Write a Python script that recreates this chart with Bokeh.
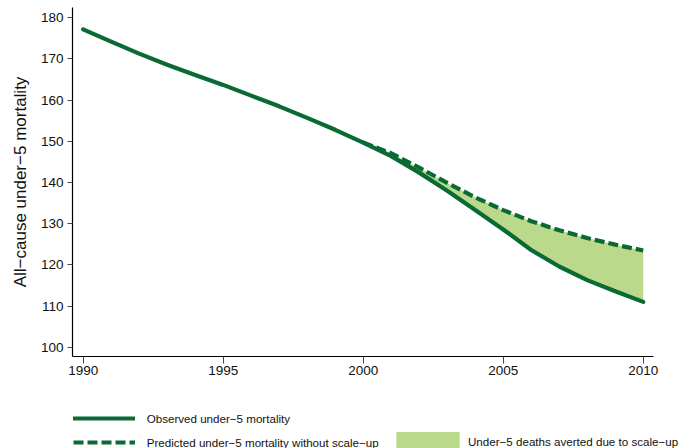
from bokeh.plotting import figure
from bokeh.layouts import column
from bokeh.models import Range1d, FixedTicker, Legend, LegendItem, ColumnDataSource
from bokeh.embed import file_html
from bokeh.resources import INLINE

# ---- data ----
years = list(range(1990, 2011))
observed = [177.2, 174.2, 171.3, 168.6, 166.1, 163.7, 161.1, 158.5, 155.7, 152.8,
            149.7, 146.4, 142.4, 138.0, 133.3, 128.6, 123.6, 119.6, 116.3, 113.6, 111.0]
pred_years = list(range(2000, 2011))
predicted = [149.7, 147.1, 143.6, 139.9, 136.4, 133.3, 130.6, 128.4, 126.5, 124.9, 123.5]
obs_after = observed[10:]

x_ticks = [1990, 1995, 2000, 2005, 2010]
y_ticks = [100, 110, 120, 130, 140, 150, 160, 170, 180]

label_obs = "Observed under\u22125 mortality"
label_pred = "Predicted under\u22125 mortality without scale\u2212up"
label_area = "Under\u22125 deaths averted due to scale\u2212up"
y_title = "All\u2212cause under\u22125 mortality"

DARK = "#0a6a34"
FILL = "#bbd98b"
FONT = "Liberation Sans"
LW = 4.2

obs_src = ColumnDataSource(dict(x=years, y=observed))
pred_src = ColumnDataSource(dict(x=pred_years, y=predicted, lo=obs_after))


def draw_series(fig):
    a = fig.varea(x="x", y1="lo", y2="y", source=pred_src, fill_color=FILL, fill_alpha=1.0)
    s = fig.line(x="x", y="y", source=obs_src, line_color=DARK, line_width=LW,
                 line_cap="round", line_join="round")
    d = fig.line(x="x", y="y", source=pred_src, line_color=DARK, line_width=LW, line_dash="10 4")
    return a, s, d


# ---- main chart ----
p = figure(frame_width=627, frame_height=349, output_backend="svg", toolbar_location=None,
           x_range=Range1d(1989.62, 2012.01), y_range=Range1d(97.74, 182.5),
           min_border_left=72, min_border_right=0, min_border_top=7, min_border_bottom=30)
p.outline_line_color = None
p.xgrid.visible = False
p.ygrid.visible = False
draw_series(p)

for ax in (p.xaxis[0], p.yaxis[0]):
    ax.axis_line_color = "black"
    ax.axis_line_width = 1.2
    ax.major_tick_line_color = "#444444"
    ax.major_tick_in = 0
    ax.minor_tick_line_color = None
    ax.major_label_text_font = FONT
    ax.major_label_text_font_size = "13.5px"
    ax.major_label_text_color = "#111111"

p.xaxis.ticker = FixedTicker(ticks=x_ticks)
p.xaxis.bounds = (1989.62, 2010.36)
p.yaxis.ticker = FixedTicker(ticks=y_ticks)
p.xaxis.major_tick_out = 7
p.yaxis.major_tick_out = 5
p.xaxis.major_label_standoff = 2
p.yaxis.major_label_standoff = 4

p.yaxis.axis_label = y_title
p.yaxis.axis_label_text_font = FONT
p.yaxis.axis_label_text_font_size = "17px"
p.yaxis.axis_label_text_font_style = "normal"
p.yaxis.axis_label_text_color = "#111111"
p.yaxis.axis_label_standoff = 8

# ---- legend strip (same series, out of its view range; only the keys show) ----
q = figure(width=699, height=62, output_backend="svg", toolbar_location=None,
           x_axis_type=None, y_axis_type=None, x_range=Range1d(0, 1), y_range=Range1d(0, 1),
           min_border=0)
q.outline_line_color = None
k_area, k_solid, k_dash = draw_series(q)

common = dict(margin=0, padding=0, border_line_color=None, background_fill_alpha=0,
              label_text_font=FONT, label_text_font_size="11.6px", label_text_color="#111111",
              label_height=10, label_width=10)

leg1 = Legend(items=[LegendItem(label=label_obs, renderers=[k_solid])],
              location=(0.7, 20), glyph_width=62, glyph_height=20, label_standoff=12, **common)
leg2 = Legend(items=[LegendItem(label=label_pred, renderers=[k_dash])],
              location=(0.7, -4), glyph_width=62, glyph_height=20, label_standoff=12, **common)
leg3 = Legend(items=[LegendItem(label=label_area, renderers=[k_area])],
              location=(316, -6), glyph_width=79, glyph_height=25, label_standoff=1, **common)
q.add_layout(leg1)
q.add_layout(leg2)
q.add_layout(leg3)

layout = column(p, q, spacing=0)
open("out.html", "w").write(file_html(layout, INLINE))
